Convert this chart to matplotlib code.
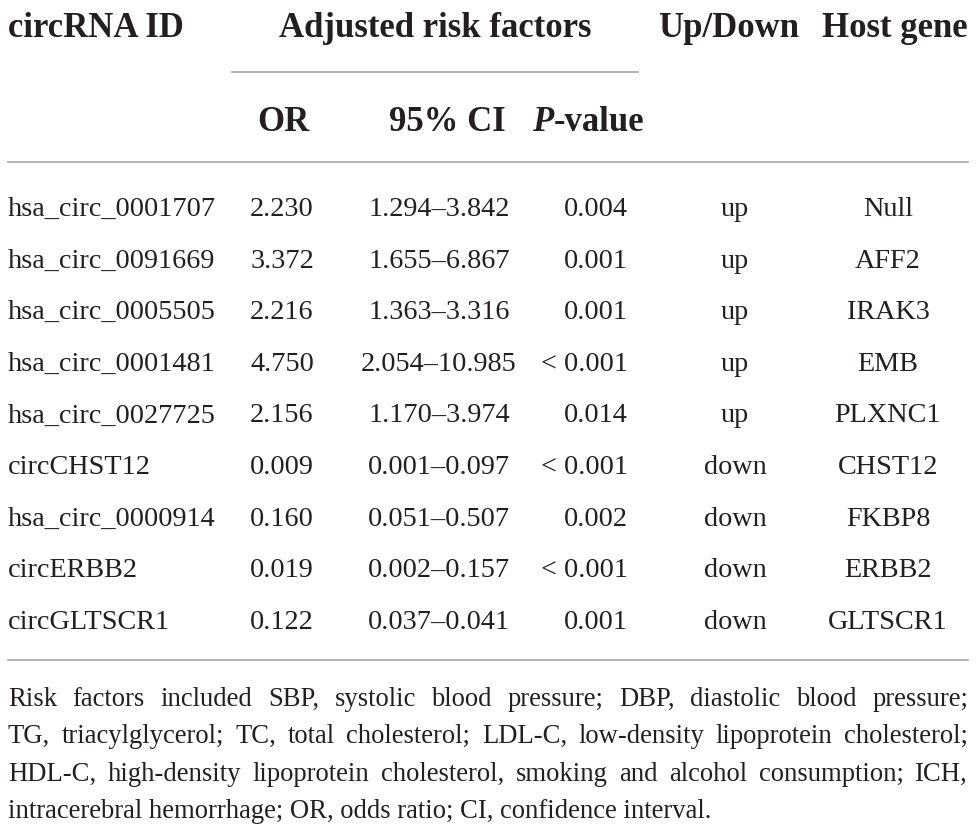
import matplotlib
matplotlib.use("Agg")
import matplotlib.pyplot as plt

plt.rcParams['font.family'] = ['Liberation Serif', 'DejaVu Serif']

circ_ids = ["hsa_circ_0001707", "hsa_circ_0091669", "hsa_circ_0005505",
            "hsa_circ_0001481", "hsa_circ_0027725", "circCHST12",
            "hsa_circ_0000914", "circERBB2", "circGLTSCR1"]
odds_ratio = ["2.230", "3.372", "2.216", "4.750", "2.156", "0.009", "0.160", "0.019", "0.122"]
ci_95 = ["1.294\u20133.842", "1.655\u20136.867", "1.363\u20133.316", "2.054\u201310.985",
         "1.170\u20133.974", "0.001\u20130.097", "0.051\u20130.507", "0.002\u20130.157",
         "0.037\u20130.041"]
p_values = ["0.004", "0.001", "0.001", "< 0.001", "0.014", "< 0.001", "0.002", "< 0.001", "0.001"]
regulation = ["up", "up", "up", "up", "up", "down", "down", "down", "down"]
host_genes = ["Null", "AFF2", "IRAK3", "EMB", "PLXNC1", "CHST12", "FKBP8", "ERBB2", "GLTSCR1"]

footnote = [
    "Risk factors included SBP, systolic blood pressure; DBP, diastolic blood pressure;",
    "TG, triacylglycerol; TC, total cholesterol; LDL-C, low-density lipoprotein cholesterol;",
    "HDL-C, high-density lipoprotein cholesterol, smoking and alcohol consumption; ICH,",
    "intracerebral hemorrhage; OR, odds ratio; CI, confidence interval.",
]

W, H = 979, 834
TXT = '#231f20'
RULE = '#a6a6a6'

fig = plt.figure(figsize=(W / 100, H / 100), dpi=100)
ax = fig.add_axes([0, 0, 1, 1])
ax.set_xlim(0, W)
ax.set_ylim(H, 0)
ax.axis('off')
renderer = fig.canvas.get_renderer()

hdr = dict(fontsize=25, fontweight='bold', color=TXT, va='baseline')
ax.text(8, 37, "circRNA ID", ha='left', **hdr)
ax.text(435, 37, "Adjusted risk factors", ha='center', **hdr)
ax.text(729, 37, "Up/Down", ha='center', **hdr)
ax.text(968, 37, "Host gene", ha='right', **hdr)
ax.text(283, 131, "OR", ha='center', **hdr)
ax.text(447, 131, "95% CI", ha='center', **hdr)

# P-value: italic P + upright "-value", centred together
p_it = ax.text(0, 131, "P", ha='left', fontstyle='italic', **hdr)
p_rest = ax.text(0, 131, "-value", ha='left', **hdr)
w1 = p_it.get_window_extent(renderer).width
w2 = p_rest.get_window_extent(renderer).width
start = 588 - (w1 + w2) / 2
p_it.set_x(start)
p_rest.set_x(start + w1)

ax.plot([232, 638], [72, 72], color=RULE, lw=1.2)
ax.plot([8, 968], [162, 162], color=RULE, lw=1.2)
ax.plot([8, 968], [660, 660], color=RULE, lw=1.2)

body = dict(fontsize=20.3, color=TXT, va='baseline')
y0, dy = 216, 51.6
for i in range(len(circ_ids)):
    y = y0 + i * dy
    ax.text(8, y, circ_ids[i], ha='left', **body)
    ax.text(282, y, odds_ratio[i], ha='center', **body)
    ax.text(439, y, ci_95[i], ha='center', **body)
    ax.text(628, y, p_values[i], ha='right', **body)
    ax.text(735, y, regulation[i], ha='center', **body)
    ax.text(888, y, host_genes[i], ha='center', **body)

# justified footnote
fn = dict(fontsize=19.2, color=TXT, va='baseline', ha='left')
left, right = 8, 968
for j, line in enumerate(footnote):
    y = 706 + j * 37.3
    words = line.split(' ')
    if j == len(footnote) - 1:
        ax.text(left, y, line, **fn)
        continue
    texts = [ax.text(0, y, w, **fn) for w in words]
    widths = [t.get_window_extent(renderer).width for t in texts]
    gap = (right - left - sum(widths)) / (len(words) - 1)
    x = left
    for t, w in zip(texts, widths):
        t.set_x(x)
        x += w + gap

fig.savefig("out.png", dpi=100)
